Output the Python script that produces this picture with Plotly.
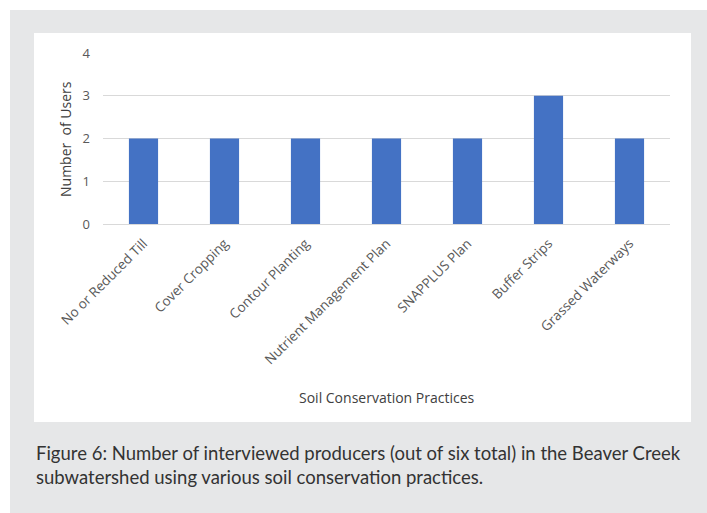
import plotly.graph_objects as go

categories = ["No or Reduced Till", "Cover Cropping", "Contour Planting",
              "Nutrient Management Plan", "SNAPPLUS Plan", "Buffer Strips",
              "Grassed Waterways"]
users = [2, 2, 2, 2, 2, 3, 2]
y_ticks = [0, 1, 2, 3, 4]

W, H = 707, 513
L, R, T, B = 103, 670, 53, 224  # plot area in px
pw, ph = R - L, B - T

def px(x):
    return (x - L) / pw

def py(y):
    return (B - y) / ph

fig = go.Figure(go.Bar(
    x=categories, y=users, marker_color="#4472C4", marker_line_width=0,
    hoverinfo="x+y"))

fig.update_layout(
    width=W, height=H,
    margin=dict(l=L, r=W - R, t=T, b=H - B),
    paper_bgcolor="white", plot_bgcolor="white",
    bargap=0.64, showlegend=False,
    font=dict(family="Open Sans, Liberation Sans, sans-serif", color="#595959"),
    shapes=[
        dict(type="rect", xref="paper", yref="paper", layer="below",
             x0=px(10), x1=px(707), y0=py(10), y1=py(513),
             fillcolor="#e6e7e8", line_width=0),
        dict(type="rect", xref="paper", yref="paper", layer="below",
             x0=px(34), x1=px(691), y0=py(33), y1=py(422),
             fillcolor="white", line_width=0),
    ],
    annotations=[
        dict(text="Soil Conservation Practices", xref="paper", yref="paper",
             x=px(387), y=py(397), xanchor="center", yanchor="middle",
             showarrow=False, font=dict(size=14, color="#404040")),
        dict(text="Number  of Users", xref="paper", yref="paper",
             x=px(65), y=py(139), xanchor="center", yanchor="middle",
             textangle=-90, showarrow=False,
             font=dict(size=14, color="#404040")),
        dict(text="Figure 6: Number of interviewed producers (out of six total) in the Beaver Creek<br>"
                  "subwatershed using various soil conservation practices.",
             xref="paper", yref="paper", x=px(34), y=py(465),
             xanchor="left", yanchor="middle", align="left", showarrow=False,
             font=dict(family="Lato, Open Sans, sans-serif", size=18.5, color="#333333")),
    ],
)

fig.update_xaxes(
    tickangle=-45, tickfont=dict(size=13.5, color="#595959"),
    showgrid=False, showline=False, ticks="", ticklabelstandoff=8,
)
fig.update_yaxes(
    range=[0, 4.0], tickvals=y_ticks, ticktext=[str(v) for v in y_ticks],
    tickfont=dict(size=13, color="#595959"),
    showgrid=True, gridcolor="#d9d9d9", gridwidth=1,
    zeroline=True, zerolinecolor="#d9d9d9", zerolinewidth=1,
    ticks="", ticklabelstandoff=12,
)

fig.write_html("out.html")
